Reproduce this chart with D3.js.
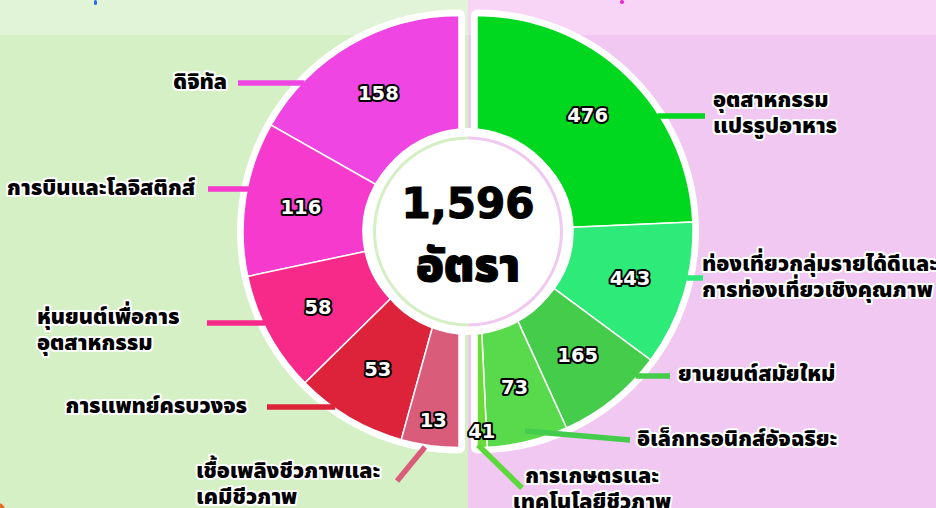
<!DOCTYPE html>
<html><head><meta charset="utf-8">
<script src="https://cdn.jsdelivr.net/npm/d3@7"></script>
<style>
html,body{margin:0;padding:0;background:#fff;}
svg{display:block;}
</style></head>
<body>
<svg id="chart" width="936" height="508"></svg>
<script>
// ---------- data ----------
const leftCategories = [["ดิจิทัล"], ["การบินและโลจิสติกส์"], ["หุ่นยนต์เพื่อการ", "อุตสาหกรรม"], ["การแพทย์ครบวงจร"], ["เชื้อเพลิงชีวภาพและ", "เคมีชีวภาพ"]];
const leftValues = [158, 116, 58, 53, 13];
const leftSweep = [60.5, 41.5, 32.5, 30, 15.5];   // drawn angular share (degrees)
const rightCategories = [["อุตสาหกรรม", "แปรรูปอาหาร"], ["ท่องเที่ยวกลุ่มรายได้ดีและ", "การท่องเที่ยวเชิงคุณภาพ"], ["ยานยนต์สมัยใหม่"], ["อิเล็กทรอนิกส์อัจฉริยะ"], ["การเกษตรและ", "เทคโนโลยีชีวภาพ"]];
const rightValues = [476, 443, 165, 73, 41];
const rightSweep = [87.5, 39, 29, 21.8, 2.7];
const unitLabel = "อัตรา";

// ---------- styling ----------
const leftColors = ["#ee45e3", "#f53acd", "#f72a8a", "#dd2339", "#d95c7b"];
const rightColors = ["#00d81f", "#2eea78", "#44cc4a", "#58da4c", "#6adc3a"];
const leftLine = ["#ee45e3", "#f53acd", "#f72a8a", "#dd2339", "#d95c7b"];
const rightLine = ["#00d81f", "#2eea78", "#44cc4a", "#44cc4c", "#5dd83a"];

const W = 936, H = 508;
const cy = 231.5, cxMid = 468, cxL = 459, cxR = 477;
const R = 216, r0 = 96;
const thaiFont = "'Noto Sans Thai','Noto Sans Thai UI','Noto Sans','DejaVu Sans',sans-serif";
const numFont = "'DejaVu Sans','Noto Sans',sans-serif";

const svg = d3.select("#chart");

// backgrounds
svg.append("rect").attr("x", 0).attr("y", 0).attr("width", cxMid).attr("height", H).attr("fill", "#d5f0c5");
svg.append("rect").attr("x", cxMid).attr("y", 0).attr("width", W - cxMid).attr("height", H).attr("fill", "#f0c8f1");
svg.append("rect").attr("x", 0).attr("y", 0).attr("width", cxMid).attr("height", 35).attr("fill", "#e2f4d8");
svg.append("rect").attr("x", cxMid).attr("y", 0).attr("width", W - cxMid).attr("height", 35).attr("fill", "#f8d5f6");
// cut-off title fragments
svg.append("rect").attr("x", 94).attr("y", 0).attr("width", 3).attr("height", 5).attr("rx", 1.5).attr("fill", "#2a6cf0");
svg.append("rect").attr("x", 620).attr("y", 0).attr("width", 4).attr("height", 4).attr("rx", 2).attr("fill", "#ee22cc");
svg.append("circle").attr("cx", -2).attr("cy", 510).attr("r", 7).attr("fill", "#ee6a22");

const arc = d3.arc().innerRadius(r0).outerRadius(R);
const shell = d3.arc().innerRadius(r0).outerRadius(R);

function half(cx, values, sweep, colors, dir) {
  const g = svg.append("g").attr("transform", `translate(${cx},${cy})`);
  g.append("path")
    .attr("d", shell({startAngle: 0, endAngle: dir * Math.PI}))
    .attr("fill", "#fff").attr("stroke", "#fff").attr("stroke-width", 12).attr("stroke-linejoin", "round");
  const pie = d3.pie().sort(null).value((d, i) => sweep[i]).startAngle(0).endAngle(dir * Math.PI);
  const arcs = pie(values);
  g.selectAll("path.slice").data(arcs).join("path").attr("class", "slice")
    .attr("d", arc).attr("fill", (d, i) => colors[i])
    .attr("stroke", "#fff").attr("stroke-width", 1.5);
  return {g, arcs};
}

const L = half(cxL, leftValues, leftSweep, leftColors, -1);
const Rt = half(cxR, rightValues, rightSweep, rightColors, 1);

// center disc
svg.append("circle").attr("cx", cxMid).attr("cy", cy).attr("r", 103.5).attr("fill", "#fff");
const ring = d3.arc().innerRadius(92).outerRadius(95);
svg.append("path").attr("transform", `translate(${cxMid},${cy})`)
  .attr("d", ring({startAngle: 0, endAngle: -Math.PI})).attr("fill", "#d4efc4");
svg.append("path").attr("transform", `translate(${cxMid},${cy})`)
  .attr("d", ring({startAngle: 0, endAngle: Math.PI})).attr("fill", "#f0c9f0");

const total = d3.sum(leftValues) + d3.sum(rightValues);
svg.append("text").attr("x", cxMid).attr("y", 218).attr("text-anchor", "middle")
  .attr("font-family", numFont).attr("font-weight", 900).attr("font-size", 42)
  .attr("fill", "#000").attr("stroke", "#000").attr("stroke-width", 1.2)
  .text(d3.format(",")(total));
svg.append("text").attr("x", cxMid).attr("y", 281).attr("text-anchor", "middle")
  .attr("font-family", thaiFont).attr("font-weight", 900).attr("font-size", 46)
  .attr("fill", "#000").attr("stroke", "#000").attr("stroke-width", 1)
  .text(unitLabel);

// leader lines + category labels
function edge(cx, y, side) { return cx + side * Math.sqrt(R * R - (y - cy) * (y - cy)); }
const leftLayout = [
  {x: 227, y: 82, anchor: "end", pts: [[238, 83], [edge(cxL, 83, -1) + 2, 83]]},
  {x: 195, y: 188, anchor: "end", pts: [[208, 189], [edge(cxL, 189, -1) + 2, 189]]},
  {x: 37, y: 317, anchor: "start", pts: [[207, 323], [edge(cxL, 323, -1) + 2, 323]]},
  {x: 247, y: 406, anchor: "end", pts: [[267, 407], [edge(cxL, 407, -1) + 2, 407]]},
  {x: 196, y: 471, anchor: "start", pts: [[397, 481], [425, 447]]}
];
const rightLayout = [
  {x: 713, y: 100, anchor: "start", pts: [[edge(cxR, 116, 1) - 2, 116], [705, 116]]},
  {x: 702, y: 264, anchor: "start", pts: [[edge(cxR, 278, 1) - 2, 278], [703, 278]]},
  {x: 678, y: 374, anchor: "start", pts: [[edge(cxR, 376, 1) - 2, 376], [670, 376]]},
  {x: 637, y: 439, anchor: "start", pts: [[525, 431], [630, 440]]},
  {x: 592, y: 476, anchor: "middle", pts: [[478, 445], [522, 488]]}
];

const lineGen = d3.line();
function labels(cats, layout, lineColors) {
  cats.forEach((lines, i) => {
    const lay = layout[i];
    svg.append("path").attr("d", lineGen(lay.pts)).attr("fill", "none")
      .attr("stroke", lineColors[i]).attr("stroke-width", 5.5);
    const t = svg.append("text").attr("text-anchor", lay.anchor)
      .attr("font-family", thaiFont).attr("font-weight", 900).attr("font-size", 21.5)
      .attr("fill", "#000").attr("stroke", "#fff").attr("stroke-width", 4)
      .attr("stroke-linejoin", "round").attr("paint-order", "stroke")
      .attr("dominant-baseline", "central");
    lines.forEach((ln, j) => t.append("tspan").attr("x", lay.x).attr("y", lay.y + j * 26).text(ln));
  });
}
labels(leftCategories, leftLayout, leftLine);
labels(rightCategories, rightLayout, rightLine);

// value labels
function valueLabels(h, cx, values) {
  h.arcs.forEach((a, i) => {
    const mid = (a.startAngle + a.endAngle) / 2;
    const span = Math.abs(a.endAngle - a.startAngle) * 180 / Math.PI;
    const rr = span < 5 ? 200 : (span < 20 ? 191 : 160);
    const x = cx + rr * Math.sin(mid), y = cy - rr * Math.cos(mid);
    svg.append("text").attr("x", x).attr("y", y).attr("text-anchor", "middle")
      .attr("dominant-baseline", "central")
      .attr("font-family", numFont).attr("font-weight", 900).attr("font-size", 19.5)
      .attr("fill", "#fff").attr("stroke", "#000").attr("stroke-width", 4)
      .attr("stroke-linejoin", "round").attr("paint-order", "stroke")
      .text(values[i]);
  });
}
valueLabels(L, cxL, leftValues);
valueLabels(Rt, cxR, rightValues);
</script>
</body></html>
